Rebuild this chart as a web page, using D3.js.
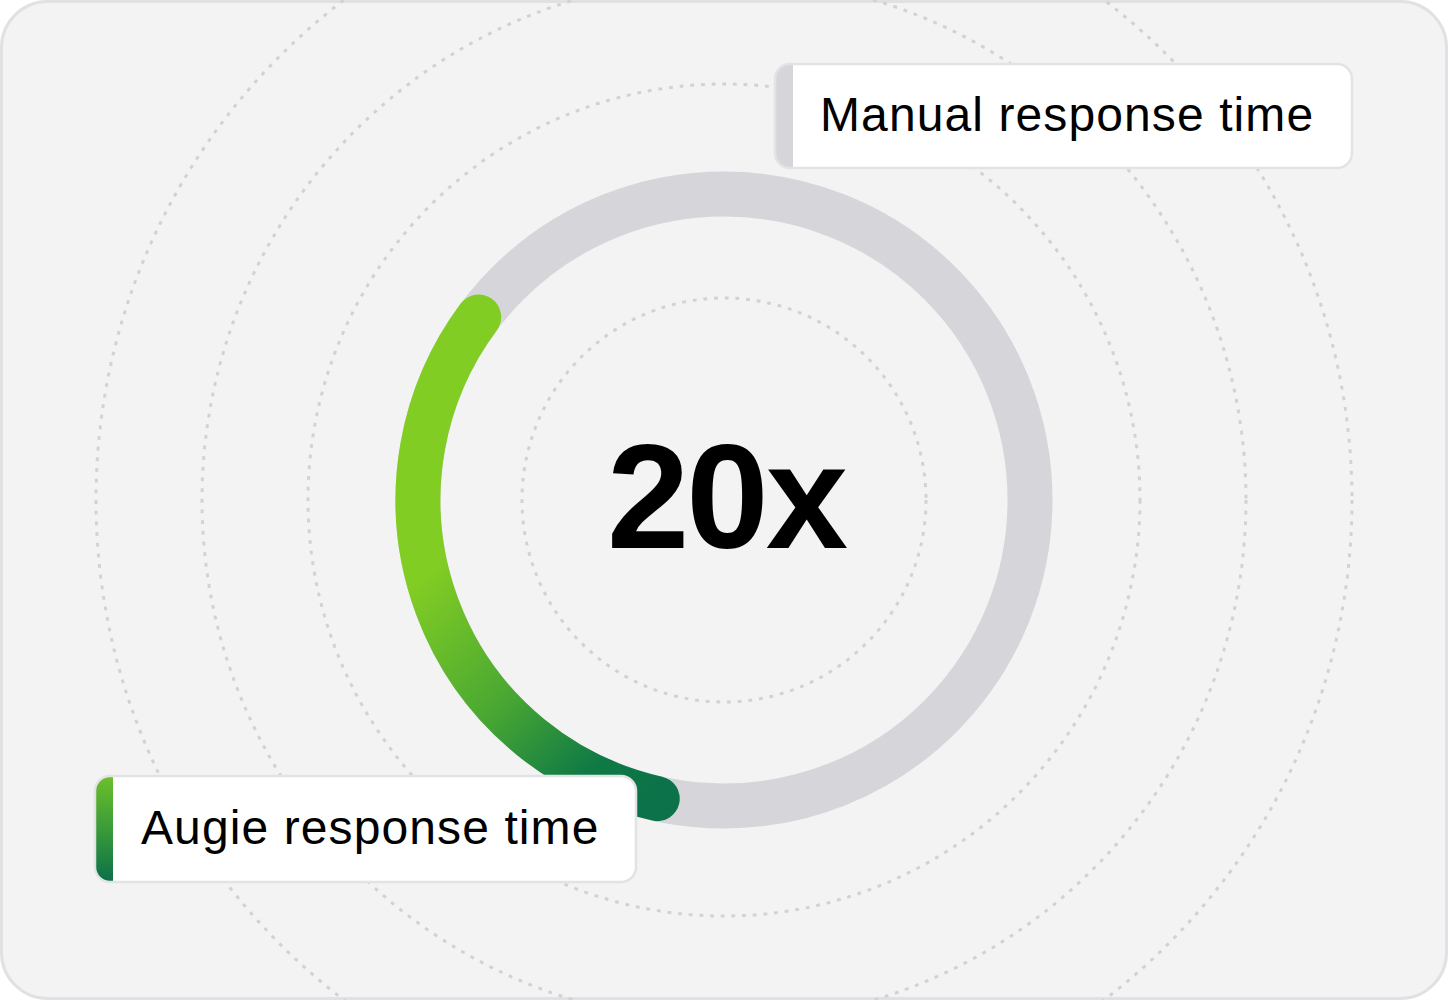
<!DOCTYPE html>
<html lang="en">
<head>
  <meta charset="UTF-8" />
  <title>Response time ring</title>
  <style>
    body { margin: 0; background: white; overflow: hidden; }
    svg { display: block; }
    text { font-family: "Liberation Sans", Arial, sans-serif; }
  </style>
</head>
<body>
<svg id="chart" width="1448" height="1000"></svg>
<script src="https://cdn.jsdelivr.net/npm/d3@7"></script>
<script>
// --- data ---
const ratioLabel = "20x";
const ringRadii = [202, 308, 416, 522, 628];       // dashed guide circles
const augieArc = [0.535, 0.852];                    // share of the ring (start, end), clockwise from top
const labels = ["Manual response time", "Augie response time"];

const width = 1448, height = 1000;
const cx = 724, cy = 500;
const ringR = 306, ringW = 45;

const svg = d3.select("#chart");
const defs = svg.append("defs");

const angle = d3.scaleLinear().domain([0, 1]).range([0, 2 * Math.PI]);

// gradient for the green arc (light along the left, dark at the bottom)
const arcGrad = defs.append("linearGradient")
  .attr("id", "arcGrad")
  .attr("gradientUnits", "userSpaceOnUse")
  .attr("x1", 430).attr("y1", 570)
  .attr("x2", 650).attr("y2", 800);
arcGrad.append("stop").attr("offset", 0).attr("stop-color", "#82cd24");
arcGrad.append("stop").attr("offset", 0.45).attr("stop-color", "#4aa832");
arcGrad.append("stop").attr("offset", 0.8).attr("stop-color", "#0f7a45");
arcGrad.append("stop").attr("offset", 1).attr("stop-color", "#0b7249");

const stripGrad = defs.append("linearGradient")
  .attr("id", "stripGrad")
  .attr("x1", 0).attr("y1", 0).attr("x2", 0).attr("y2", 1);
stripGrad.append("stop").attr("offset", 0).attr("stop-color", "#6cc02a");
stripGrad.append("stop").attr("offset", 0.55).attr("stop-color", "#35973a");
stripGrad.append("stop").attr("offset", 1).attr("stop-color", "#0b7049");

// card background
svg.append("rect")
  .attr("x", 1.5).attr("y", 1.5)
  .attr("width", width - 3).attr("height", height - 3)
  .attr("rx", 46)
  .attr("fill", "#f3f3f3")
  .attr("stroke", "#e1e1e4")
  .attr("stroke-width", 3);

const g = svg.append("g").attr("transform", `translate(${cx},${cy})`);

// dashed concentric guides
g.append("g").selectAll("circle")
  .data(ringRadii)
  .join("circle")
  .attr("r", d => d)
  .attr("fill", "none")
  .attr("stroke", "#d2d2d6")
  .attr("stroke-width", 3)
  .attr("stroke-dasharray", "3.8 6.9");

// grey full ring (manual)
g.append("circle")
  .attr("r", ringR)
  .attr("fill", "none")
  .attr("stroke", "#d6d6da")
  .attr("stroke-width", ringW);

// green arc (augie), gradient is in page coordinates
const p = d3.path();
p.arc(cx, cy, ringR, angle(augieArc[0]) - Math.PI / 2, angle(augieArc[1]) - Math.PI / 2, false);
svg.append("path")
  .attr("d", p.toString())
  .attr("fill", "none")
  .attr("stroke", "url(#arcGrad)")
  .attr("stroke-width", ringW)
  .attr("stroke-linecap", "round");

// centre figure
svg.append("text")
  .attr("x", cx + 2).attr("y", 548)
  .attr("text-anchor", "middle")
  .attr("font-size", 148)
  .attr("font-weight", 700)
  .attr("letter-spacing", -3)
  .attr("fill", "#000")
  .text(ratioLabel);

// label boxes
const boxes = [
  { text: labels[0], x: 775, y: 64, w: 577, h: 104, strip: "#d6d6da", tx: 820, ty: 131 },
  { text: labels[1], x: 95, y: 776, w: 541, h: 106, strip: "url(#stripGrad)", tx: 141, ty: 844 }
];

boxes.forEach((b, i) => {
  const clipId = "boxClip" + i;
  defs.append("clipPath").attr("id", clipId)
    .append("rect")
    .attr("x", b.x).attr("y", b.y)
    .attr("width", b.w).attr("height", b.h)
    .attr("rx", 15);

  const bg = svg.append("g");
  bg.append("rect")
    .attr("x", b.x).attr("y", b.y)
    .attr("width", b.w).attr("height", b.h)
    .attr("rx", 15)
    .attr("fill", "#fff");
  bg.append("rect")
    .attr("clip-path", `url(#${clipId})`)
    .attr("x", b.x).attr("y", b.y)
    .attr("width", 18).attr("height", b.h)
    .attr("fill", b.strip);
  bg.append("rect")
    .attr("x", b.x).attr("y", b.y)
    .attr("width", b.w).attr("height", b.h)
    .attr("rx", 15)
    .attr("fill", "none")
    .attr("stroke", "#e3e3e6")
    .attr("stroke-width", 2.5);
  bg.append("text")
    .attr("x", b.tx).attr("y", b.ty)
    .attr("font-size", 48)
    .attr("letter-spacing", 1.1)
    .attr("fill", "#000")
    .text(b.text);
});
</script>
</body>
</html>
